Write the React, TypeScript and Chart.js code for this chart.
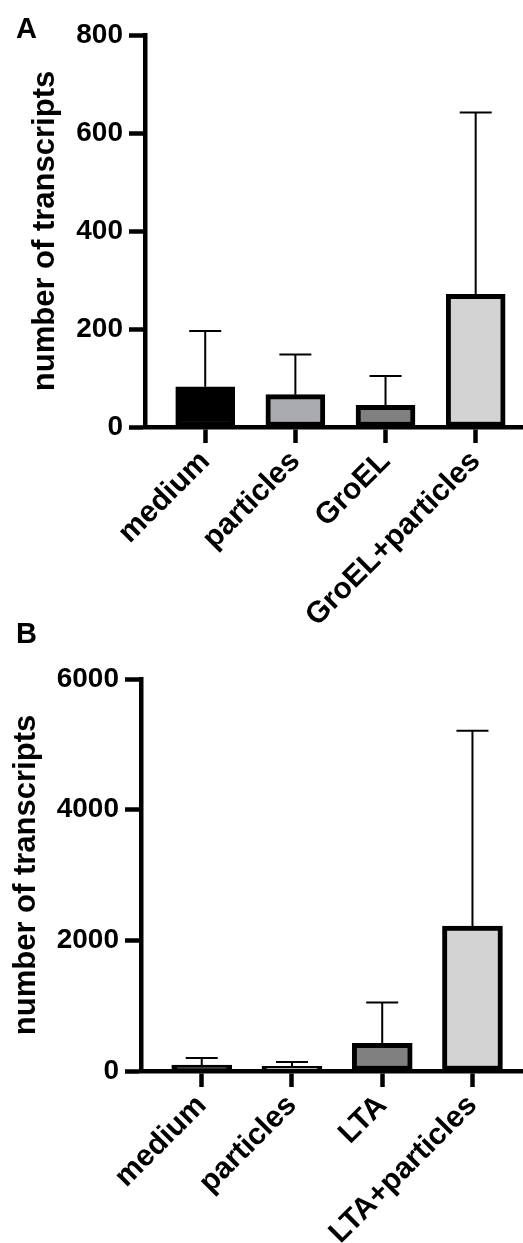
import React, { useEffect, useRef } from 'react';
import { Chart, registerables } from 'chart.js';

Chart.register(...registerables);

const categoriesA = ['medium', 'particles', 'GroEL', 'GroEL+particles'];
const meansA = [82, 66, 44, 271];
const sdA = [114, 82, 60, 371];
const yTicksA = [0, 200, 400, 600, 800];

const categoriesB = ['medium', 'particles', 'LTA', 'LTA+particles'];
const meansB = [90, 72, 424, 2218];
const sdB = [109, 66, 624, 2990];
const yTicksB = [0, 2000, 4000, 6000];

const barFills = ['#000000', '#aaabaf', '#808080', '#d3d3d3'];
const yTitle = 'number of transcripts';

const FONT = "'Liberation Sans', Arial, Helvetica, sans-serif";

type PanelProps = {
  cats: string[];
  means: number[];
  sds: number[];
  yTicks: number[];
  xMin: number;
  xMax: number;
  width: number;
  height: number;
  areaLeft: number;
  areaTop: number;
  areaBottom: number;
  titlePad: number;
  barWidth: number;
  top: number;
};

function makeErrorBars(sds: number[]) {
  return {
    id: 'errorBars',
    afterDatasetsDraw(chart: any) {
      const meta = chart.getDatasetMeta(0);
      const yScale = chart.scales.y;
      const data = chart.data.datasets[0].data as any[];
      const ctx = chart.ctx;
      ctx.save();
      ctx.strokeStyle = '#000';
      ctx.lineWidth = 2;
      meta.data.forEach((bar: any, i: number) => {
        const v = data[i].y;
        const topPx = yScale.getPixelForValue(v + sds[i]);
        const x = bar.x;
        ctx.beginPath();
        ctx.moveTo(x, bar.y);
        ctx.lineTo(x, topPx);
        ctx.moveTo(x - 16, topPx);
        ctx.lineTo(x + 16, topPx);
        ctx.stroke();
      });
      ctx.restore();
    },
  };
}

function Panel(p: PanelProps) {
  const ref = useRef<HTMLCanvasElement | null>(null);
  useEffect(() => {
    if (!ref.current) return;
    const gridOpts = {
      offset: false,
      drawOnChartArea: false,
      drawTicks: true,
      tickLength: 16,
      tickWidth: 4.5,
      tickColor: '#000',
    };
    const borderOpts = { display: true, width: 4.5, color: '#000' };
    const chart = new Chart(ref.current, {
      type: 'bar',
      data: {
        datasets: [
          {
            data: p.means.map((m, i) => ({ x: i, y: m })),
            backgroundColor: barFills,
            borderColor: '#000',
            borderWidth: 5,
            borderSkipped: false,
            barThickness: p.barWidth,
          } as any,
        ],
      },
      options: {
        responsive: false,
        animation: false,
        devicePixelRatio: 1,
        layout: { padding: { left: 0, right: 0, top: p.areaTop, bottom: 0 } },
        plugins: { legend: { display: false }, tooltip: { enabled: false } },
        scales: {
          x: {
            type: 'linear',
            min: p.xMin,
            max: p.xMax,
            offset: false,
            afterBuildTicks: (s: any) => {
              s.ticks = p.cats.map((_, i) => ({ value: i }));
            },
            afterFit: (s: any) => {
              s.height = p.height - p.areaBottom;
            },
            ticks: {
              autoSkip: false,
              minRotation: 45,
              maxRotation: 45,
              padding: 1,
              color: '#000',
              font: { family: FONT, size: 30, weight: 'bold' },
              callback: (v: any) => p.cats[v] ?? '',
            },
            grid: gridOpts,
            border: borderOpts,
          } as any,
          y: {
            type: 'linear',
            min: p.yTicks[0],
            max: p.yTicks[p.yTicks.length - 1],
            afterBuildTicks: (s: any) => {
              s.ticks = p.yTicks.map((v) => ({ value: v }));
            },
            afterFit: (s: any) => {
              s.width = p.areaLeft;
            },
            ticks: {
              padding: 6,
              color: '#000',
              font: { family: FONT, size: 28, weight: 'bold' },
              callback: (v: any) => String(v),
            },
            grid: gridOpts,
            border: borderOpts,
            title: {
              display: true,
              text: yTitle,
              color: '#000',
              font: { family: FONT, size: 31, weight: 'bold' },
              padding: { top: p.titlePad, bottom: 0 },
            },
          } as any,
        },
      },
      plugins: [makeErrorBars(p.sds)],
    });
    return () => chart.destroy();
  }, []);
  return (
    <canvas
      ref={ref}
      width={p.width}
      height={p.height}
      style={{ position: 'absolute', left: 0, top: p.top, width: p.width, height: p.height }}
    />
  );
}

const letterStyle: React.CSSProperties = {
  position: 'absolute',
  left: 16,
  fontFamily: FONT,
  fontWeight: 'bold',
  fontSize: 29,
  lineHeight: '29px',
  color: '#000',
};

export default function App() {
  return (
    <div
      style={{
        position: 'absolute',
        left: 0,
        top: 0,
        width: 523,
        height: 1243,
        background: '#fff',
        overflow: 'hidden',
      }}
    >
      <Panel
        cats={categoriesA}
        means={meansA}
        sds={sdA}
        yTicks={yTicksA}
        xMin={-0.668}
        xMax={3.525}
        width={523}
        height={630}
        areaLeft={145}
        areaTop={35}
        areaBottom={427}
        titlePad={27}
        barWidth={59}
        top={0}
      />
      <Panel
        cats={categoriesB}
        means={meansB}
        sds={sdB}
        yTicks={yTicksB}
        xMin={-0.673}
        xMax={3.56}
        width={523}
        height={603}
        areaLeft={141}
        areaTop={39}
        areaBottom={431}
        titlePad={8}
        barWidth={60}
        top={640}
      />
      <div style={{ ...letterStyle, top: 14 }}>A</div>
      <div style={{ ...letterStyle, top: 619 }}>B</div>
    </div>
  );
}
